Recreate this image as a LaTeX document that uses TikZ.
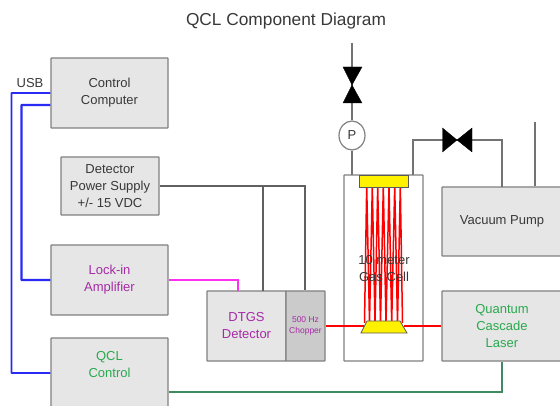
\documentclass[tikz,border=0pt]{standalone}
\usepackage{fontspec}
\setmainfont{Liberation Sans}
\usetikzlibrary{calc,shapes.geometric}
\definecolor{boxline}{HTML}{808080}
\definecolor{boxfill}{HTML}{E6E6E6}
\definecolor{chopfill}{HTML}{CBCBCB}
\definecolor{txt}{HTML}{383838}
\definecolor{purp}{HTML}{A62BA6}
\definecolor{grn}{HTML}{2BA84F}
\definecolor{wireblue}{HTML}{2A2AF5}
\definecolor{wiremag}{HTML}{FF30F0}
\definecolor{wiregrn}{HTML}{3F8A60}
\definecolor{wiregray}{HTML}{606060}
\tikzset{
  x=1pt,y=-1pt,
  unit/.style={draw=boxline,fill=boxfill,line width=1.3pt,rounded corners=0.5pt,align=center,inner sep=0pt,text=txt,
    font=\fontsize{13}{17}\selectfont},
  sized/.style n args={2}{minimum width=#1,minimum height=#2},
  pipe/.style={draw=boxline!90!black,line width=1.2pt},
  beam/.style={draw=red,line width=2pt},
  multipass/.style={draw=red,line width=1.5pt,line join=round},
  valvetri/.style={fill=black,draw=black,line width=0.3pt},
  yel/.style={fill=yellow,draw=boxline!70!black,line width=0.8pt},
}
\begin{document}
\begin{tikzpicture}
\useasboundingbox (0,0) rectangle (560,406);
\clip (0,0) rectangle (560,406);
\node[font=\fontsize{17.3}{20}\selectfont,text=txt,inner sep=0pt] (title) at (286,21) {QCL Component Diagram};
% boxes
\node[unit,sized={117pt}{70pt}] (cc) at (109.5,93) {Control\\Computer};
\node[unit,sized={98pt}{58pt}] (ps) at (110,186) {Detector\\Power Supply\\+/- 15 VDC};
\node[unit,sized={117pt}{70pt},text=purp] (li) at (109.5,280) {Lock-in\\Amplifier};
\node[unit,sized={117pt}{76pt},text=grn] (qc) at (109.5,376) {QCL\\Control\\[7pt]};
\node[unit,sized={79pt}{70pt},text=purp] (dt) at (246.5,326) {DTGS\\Detector};
\node[unit,sized={39pt}{70pt},fill=chopfill,text=purp,font=\fontsize{8.5}{11.5}\selectfont] (ch) at (305.5,326) {500 Hz\\Chopper};
\node[unit,sized={79pt}{186pt},fill=white] (cell) at (383.5,268) {};
\node[unit,sized={120pt}{69pt}] (vp) at (502,221.5) {Vacuum Pump};
\node[unit,sized={120pt}{70pt},text=grn] (ql) at (502,326) {Quantum\\Cascade\\Laser};
% gas cell mirrors and beams
\coordinate (tl) at (361,333);
\coordinate (tr) at (407,333);
\coordinate (trt) at (400,321);
\coordinate (tlt) at (367,321);
\coordinate (beamL) at (364,326);
\coordinate (beamR) at (403.5,326);
\draw[multipass] (364.5,323) -- (366.7,186) -- (369.5,323) -- (372.3,186) -- (375,323) -- (377.7,186) -- (380.5,323) -- (383.3,186) -- (386,323) -- (389,186) -- (391.7,323) -- (394.7,186) -- (397.5,323) -- (400.3,186) -- (402.5,323);
\node[yel,minimum width=49pt,minimum height=12pt,inner sep=0pt] (topm) at (383.5,181) {};
\draw[beam] (ch.east |- beamL) -- (beamL);
\draw[beam] (beamR) -- (ql.west |- beamR);
\draw[yel] (tl) -- (tlt) -- (trt) -- (tr) -- cycle;
\node[align=center,inner sep=0pt,text=txt,font=\fontsize{13}{17}\selectfont] (celltxt) at (384,268.5) {10 meter\\Gas Cell};
% top valve and gauge
\coordinate (inlet) at (352,43);
\coordinate (vc) at (352,85);
\node[draw=boxline,fill=white,line width=1.2pt,ellipse,minimum width=26pt,minimum height=29pt,inner sep=0pt,text=txt,font=\fontsize{13}{15}\selectfont] (gauge) at (352,135.5) {P};
\coordinate (cellin) at (352,175);
\draw[pipe] (inlet) -- (vc) -- (gauge.north);
\draw[pipe] (gauge.south) -- (cellin);
\draw[valvetri] (343,67) -- (362,67) -- (vc) -- cycle;
\draw[valvetri] (343,103) -- (362,103) -- (vc) -- cycle;
% pump valve
\coordinate (pc) at (457,140);
\coordinate (cellout) at (413,175);
\coordinate (pumpin) at (502,187);
\coordinate (pumpex) at (535,122);
\draw[pipe] (cellout) |- (pc) -| (pumpin);
\draw[pipe] (pumpex) -- (pumpex |- vp.north);
\draw[valvetri] (442.5,128) -- (442.5,152) -- (pc) -- cycle;
\draw[valvetri] (472,128) -- (472,152) -- (pc) -- cycle;
% wires
\node[inner sep=0pt,text=txt,font=\fontsize{13}{15}\selectfont] (usbl) at (30,83) {USB};
\coordinate (ccA) at (cc.west |- 0,93);
\coordinate (ccB) at (cc.west |- 0,105);
\draw[draw=wireblue,line width=1.8pt,rounded corners=0.5pt] (ccA) -- (11.5,93) -- (11.5,373) -- (qc.west |- 0,373);
\draw[draw=wireblue,line width=2.4pt,rounded corners=0.5pt] (ccB) -- (21.5,105) -- (21.5,280) -- (li.west);
\draw[wiremag,line width=1.8pt] (li.east) -| (238,291);
\draw[wiregray,line width=1.5pt] (ps.east) -| ([xshift=-0.5pt]ch.north);
\draw[wiregray,line width=1.5pt] (263,186) -- (263,291);
\draw[wiregrn,line width=1.6pt] (qc.east |- 0,392) -| (ql.south);
\end{tikzpicture}
\end{document}
